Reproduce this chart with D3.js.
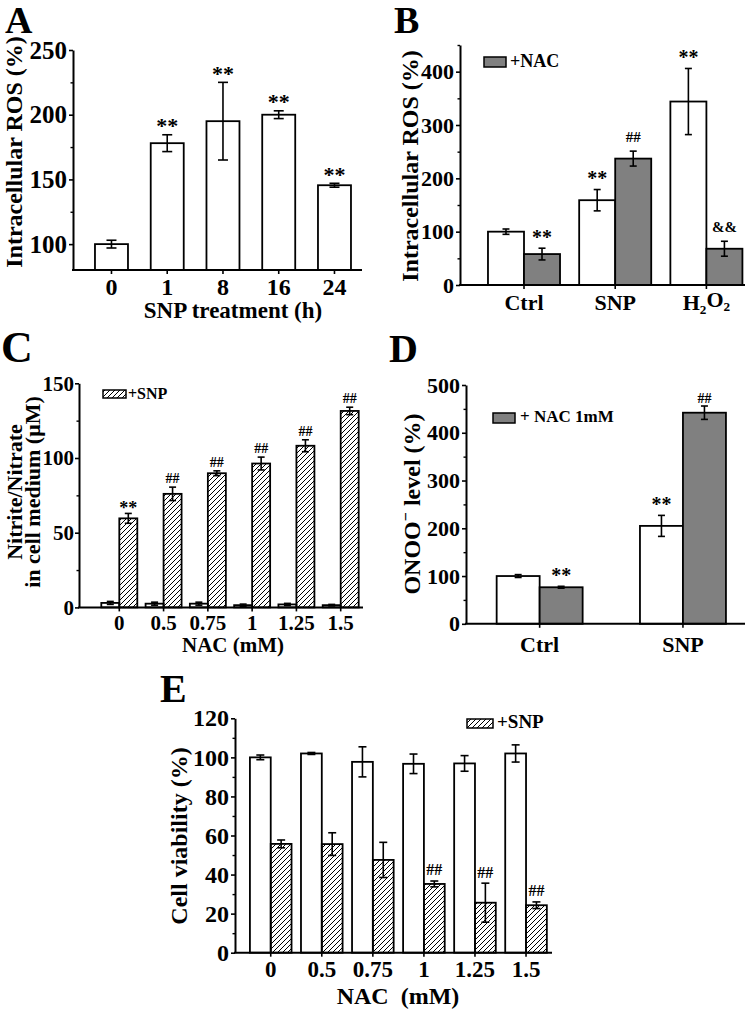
<!DOCTYPE html>
<html><head><meta charset="utf-8">
<script src="https://cdn.jsdelivr.net/npm/d3@7"></script>
<style>
body{margin:0;background:#fff;}
svg text{font-family:"Liberation Serif","Times New Roman",serif;font-weight:bold;fill:#000;}
</style></head><body>
<svg id="c" width="756" height="1009"></svg>
<script>
// ---------- Panel A ----------
const aCats = ["0","1","8","16","24"];
const aVals = [100,178,195,200,145.5];
const aErrs = [3,6.5,30,3,1.5];
const aMarks = ["","**","**","**","**"];
const aYTicks = [100,150,200,250];
const aYMinor = [125,175,225];

// ---------- Panel B ----------
const bCats = ["Ctrl","SNP","H2O2"];
const bCtrl = [100,159,344];
const bCtrlErr = [5,20,62];
const bNac = [58,237,68];
const bNacErr = [11,14,14];
const bCtrlMarks = ["","**","**"];
const bNacMarks = ["**","##","&&"];
const bYTicks = [0,100,200,300,400];
const bYMinor = [50,150,250,350,450];

// ---------- Panel C ----------
const cCats = ["0","0.5","0.75","1","1.25","1.5"];
const cCtrl = [3,2.5,2.5,1.5,2,1.5];
const cCtrlErr = [1,1,1,0.7,0.7,0.5];
const cSnp = [59.6,76,89.8,96.3,108.2,131.5];
const cSnpErr = [3.3,4.5,1.6,4.3,4,2.5];
const cCtrlMarks = ["","","","","",""];
const cSnpMarks = ["**","##","##","##","##","##"];
const cYTicks = [0,50,100,150];
const cYMinor = [25,75,125];

// ---------- Panel D ----------
const dCats = ["Ctrl","SNP"];
const dCtrl = [100,205];
const dCtrlErr = [3,22];
const dNac = [76.5,442];
const dNacErr = [2,14];
const dCtrlMarks = ["","**"];
const dNacMarks = ["**","##"];
const dYTicks = [0,100,200,300,400,500];
const dYMinor = [50,150,250,350,450];

// ---------- Panel E ----------
const eCats = ["0","0.5","0.75","1","1.25","1.5"];
const eCtrl = [100,102,97.7,96.7,96.9,102];
const eCtrlErr = [1.2,0.5,7.7,5,4,4.4];
const eSnp = [55.7,55.6,47.5,35.2,25.6,24.3];
const eSnpErr = [2,5.8,9,1.5,10,1.7];
const eCtrlMarks = ["","","","","",""];
const eSnpMarks = ["","","","##","##","##"];
const eYTicks = [0,20,40,60,80,100,120];
const eYMinor = [10,30,50,70,90,110];

const GRAY = "#808080";
const svg = d3.select("#c");
const defs = svg.append("defs");
defs.append("pattern").attr("id","hatch").attr("patternUnits","userSpaceOnUse")
  .attr("width",5).attr("height",5)
  .append("path").attr("d","M-1,1 L1,-1 M0,5 L5,0 M4,6 L6,4")
  .attr("stroke","#000").attr("stroke-width",1);

function panel(o){
  const g = svg.append("g");
  const y = d3.scaleLinear().domain(o.domain).range([o.yBot, o.yTop]);
  const n = o.cats.length;
  const x = d3.scaleBand().domain(o.cats)
    .range([o.bandStart, o.bandStart + n*o.step])
    .paddingInner(o.pad).paddingOuter(o.pad/2);
  const xs = d3.scaleBand().domain(d3.range(o.series.length)).range([0, x.bandwidth()]);

  o.series.forEach((s,si)=>{
    const sg = g.append("g");
    sg.selectAll("rect").data(o.cats).join("rect")
      .attr("x", c=>x(c)+xs(si)).attr("width", xs.bandwidth())
      .attr("y",(c,i)=>y(s.vals[i]))
      .attr("height",(c,i)=>y(o.domain[0])-y(s.vals[i]))
      .attr("fill", s.fill).attr("stroke","#000").attr("stroke-width",1.8);
    const eg = sg.append("g").attr("stroke","#000").attr("stroke-width",1.6);
    o.cats.forEach((c,i)=>{
      const cx = x(c)+xs(si)+xs.bandwidth()/2;
      const t = y(s.vals[i]+s.errs[i]), b = y(s.vals[i]-s.errs[i]);
      eg.append("line").attr("x1",cx).attr("x2",cx).attr("y1",t).attr("y2",b);
      eg.append("line").attr("x1",cx-o.capW/2).attr("x2",cx+o.capW/2).attr("y1",t).attr("y2",t);
      eg.append("line").attr("x1",cx-o.capW/2).attr("x2",cx+o.capW/2).attr("y1",b).attr("y2",b);
      const m = s.marks[i];
      if(m){
        const st = o.mark[m];
        const center = t - st.gap;
        const k = m==="**" ? 0.47 : 0.34;
        sg.append("text").attr("x",cx).attr("y",center + k*st.fs)
          .attr("text-anchor","middle").attr("font-size",st.fs).text(m);
      }
    });
  });

  // y axis
  const ya = g.append("g").attr("transform",`translate(${o.x0},0)`)
    .call(d3.axisLeft(y).tickValues(o.ticks).tickSize(4).tickPadding(o.yPad).tickSizeOuter(0));
  ya.select(".domain").attr("stroke-width",2);
  ya.selectAll(".tick line").attr("stroke-width",1.6);
  ya.attr("font-family",null).attr("font-size",o.tickFs);
  const ym = g.append("g").attr("transform",`translate(${o.x0},0)`)
    .call(d3.axisLeft(y).tickValues(o.minor).tickSize(2.5).tickFormat("").tickSizeOuter(0));
  ym.select(".domain").remove();
  ym.selectAll(".tick line").attr("stroke-width",1.4);

  // x axis
  const xa = g.append("g").attr("transform",`translate(0,${o.yBot})`)
    .call(d3.axisBottom(x).tickSize(4).tickPadding(o.xPad).tickSizeOuter(0));
  xa.select(".domain").remove();
  xa.selectAll(".tick line").attr("stroke-width",1.6);
  xa.attr("font-family",null).attr("font-size",o.xFs);
  xa.selectAll(".tick text").each(function(d){
    if(d==="H2O2"){
      const t = d3.select(this).text("");
      t.append("tspan").text("H");
      t.append("tspan").attr("font-size",o.xFs*0.6).attr("dy","0.3em").text("2");
      t.append("tspan").attr("dy","-0.3em").text("O");
      t.append("tspan").attr("font-size",o.xFs*0.6).attr("dy","0.3em").text("2");
    }
  });
  g.append("line").attr("x1",o.x0-1).attr("x2",o.x1).attr("y1",o.yBot).attr("y2",o.yBot)
    .attr("stroke","#000").attr("stroke-width",2);
  return g;
}

function ytitle(lines, x, y, fs){
  lines.forEach((l,i)=>{
    const t = svg.append("text").attr("transform",`translate(${x[i]},${y}) rotate(-90)`)
      .attr("text-anchor","middle").attr("font-size",fs);
    if(typeof l === "string") t.text(l); else l(t);
  });
}
function txt(s,x,y,fs,anchor){
  return svg.append("text").attr("x",x).attr("y",y).attr("font-size",fs)
    .attr("text-anchor",anchor||"start").style("white-space","pre").text(s);
}
function legend(x,y,w,h,fill,label,tx,ty,fs){
  svg.append("rect").attr("x",x).attr("y",y).attr("width",w).attr("height",h)
    .attr("fill",fill).attr("stroke","#000").attr("stroke-width",1.5);
  txt(label,tx,ty,fs);
}

// ---------- Draw A ----------
panel({x0:73,x1:362,yBot:270,yTop:50,domain:[80,250],ticks:aYTicks,minor:aYMinor,
  cats:aCats,bandStart:83.6,step:55.75,pad:0.408,capW:10,tickFs:25,xFs:24,xPad:4,yPad:2,
  series:[{vals:aVals,errs:aErrs,marks:aMarks,fill:"#fff"}],
  mark:{"**":{fs:22,gap:12}}});
txt("A",5,33,38);
ytitle(["Intracellular ROS (%)"],[22],152,24);
txt("SNP treatment (h)",233,318,23,"middle");

// ---------- Draw B ----------
panel({x0:460,x1:745,yBot:285,yTop:45,domain:[0,450],ticks:bYTicks,minor:bYMinor,
  cats:bCats,bandStart:478.4,step:91.2,pad:0.21,capW:7,tickFs:22,xFs:22,xPad:5.4,yPad:2,
  series:[{vals:bCtrl,errs:bCtrlErr,marks:bCtrlMarks,fill:"#fff"},
          {vals:bNac,errs:bNacErr,marks:bNacMarks,fill:GRAY}],
  mark:{"**":{fs:20,gap:14},"##":{fs:15,gap:14},"&&":{fs:15,gap:14}}});
txt("B",394,33,38);
ytitle(["Intracellular ROS (%)"],[418],166,24);
legend(484,57,22,10,GRAY,"+NAC",510,67,18);

// ---------- Draw C ----------
panel({x0:79,x1:363,yBot:607.4,yTop:383.3,domain:[0,150],ticks:cYTicks,minor:cYMinor,
  cats:cCats,bandStart:97.16,step:44.28,pad:0.187,capW:7,tickFs:21,xFs:21,xPad:3.7,yPad:1,
  series:[{vals:cCtrl,errs:cCtrlErr,marks:cCtrlMarks,fill:"#fff"},
          {vals:cSnp,errs:cSnpErr,marks:cSnpMarks,fill:"url(#hatch)"}],
  mark:{"**":{fs:18,gap:8},"##":{fs:14,gap:9}}});
txt("C",1,362,44);
ytitle(["Nitrite/Nitrate","in cell medium (\u03BCM)"],[22,40],492,22);
legend(103,390,23,8,"url(#hatch)","+SNP",128,399,16);
txt("NAC (mM)",233,652,21,"middle");

// ---------- Draw D ----------
panel({x0:466,x1:745,yBot:623.8,yTop:385,domain:[0,500],ticks:dYTicks,minor:dYMinor,
  cats:dCats,bandStart:468,step:143.3,pad:0.4,capW:7,tickFs:22,xFs:22,xPad:8.4,yPad:2,
  series:[{vals:dCtrl,errs:dCtrlErr,marks:dCtrlMarks,fill:"#fff"},
          {vals:dNac,errs:dNacErr,marks:dNacMarks,fill:GRAY}],
  mark:{"**":{fs:20,gap:14},"##":{fs:14,gap:8}}});
txt("D",389,362,40);
ytitle([t=>{
  t.append("tspan").text("ONOO");
  t.append("tspan").attr("font-size",16).attr("dy","-0.55em").text("\u2212");
  t.append("tspan").attr("dy","0.35em").text(" level (%)");
}],[420],504,24);
legend(493,413,22,10,GRAY,"+ NAC 1mM",520,422,17);

// ---------- Draw E ----------
panel({x0:235,x1:552,yBot:952.7,yTop:718.3,domain:[0,120],ticks:eYTicks,minor:eYMinor,
  cats:eCats,bandStart:245.2,step:51.06,pad:0.185,capW:8,tickFs:24,xFs:23,xPad:4,yPad:2,
  series:[{vals:eCtrl,errs:eCtrlErr,marks:eCtrlMarks,fill:"#fff"},
          {vals:eSnp,errs:eSnpErr,marks:eSnpMarks,fill:"url(#hatch)"}],
  mark:{"##":{fs:16,gap:11}}});
txt("E",160,702,40);
ytitle(["Cell viability (%)"],[187],836,24);
legend(467,719,26,9,"url(#hatch)","+SNP",497,728,19);
txt("NAC  (mM)",398,1004,24,"middle");
</script>
</body></html>
